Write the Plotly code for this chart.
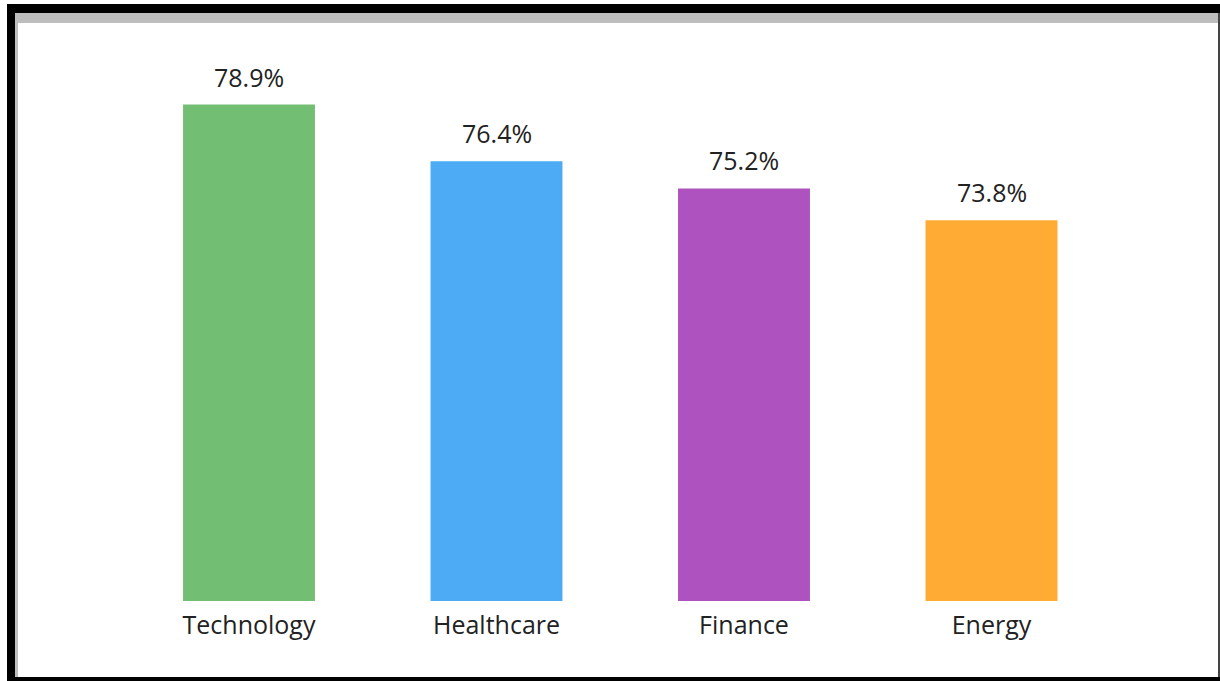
import plotly.graph_objects as go

categories = ["Technology", "Healthcare", "Finance", "Energy"]
values = [78.9, 76.4, 75.2, 73.8]
colors = ["#72BF74", "#4DABF5", "#AD52BE", "#FFAB34"]

W, H = 1220, 681

def px(x):
    return x / W

def py(y):
    return 1 - y / H

y0 = 57.0
k = 22.67  # px per unit
top_px, base_px = 40, 601
y1 = y0 + (base_px - top_px) / k

fig = go.Figure(go.Bar(
    x=categories, y=values,
    marker=dict(color=colors, line=dict(width=0)),
    hoverinfo="skip",
))

for c, v in zip(categories, values):
    fig.add_annotation(x=c, y=v, xref="x", yref="y", text=f"{v:.1f}%",
                       showarrow=False, yanchor="bottom", yshift=9,
                       font=dict(family="Open Sans", size=25, color="#222222"))

shapes = []
def rect(x0, ya, x1, yb, color):
    shapes.append(dict(type="rect", xref="paper", yref="paper",
                       x0=px(x0), x1=px(x1), y0=py(yb), y1=py(ya),
                       fillcolor=color, line=dict(width=0), layer="above"))

rect(7, 4, W, 13, "#000000")        # top black band
rect(7, 4, 15, H, "#000000")        # left black band
rect(7, 677, W, H, "#000000")       # bottom black band
rect(1218, 13, W, 677, "#444444")   # right thin line
rect(15, 13, 1218, 23, "#BDBDBD")   # top grey band
rect(15, 23, 18, 677, "#BDBDBD")    # left grey strip

fig.update_layout(
    width=W, height=H,
    margin=dict(l=0, r=0, t=0, b=0),
    paper_bgcolor="white", plot_bgcolor="white",
    showlegend=False, bargap=0.467,
    shapes=shapes,
    xaxis=dict(domain=[px(125.25), px(1115.25)], showline=False, ticks="",
               showgrid=False, zeroline=False, ticklabelstandoff=7,
               tickfont=dict(family="Open Sans", size=25, color="#222222")),
    yaxis=dict(domain=[py(base_px), py(top_px)], range=[y0, y1], visible=False),
)

fig.write_html("out.html")
